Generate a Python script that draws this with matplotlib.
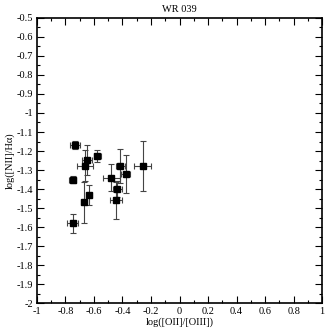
import numpy as np
import matplotlib.pyplot as plt
from matplotlib.ticker import MultipleLocator

plt.rcParams['font.family'] = ['Liberation Serif', 'DejaVu Serif']

# log([OII]/[OIII]) and log([NII]/Halpha) with errors
x = [-0.733, -0.648, -0.576, -0.660, -0.750, -0.670, -0.636, -0.750,
     -0.415, -0.378, -0.478, -0.436, -0.448, -0.259]
y = [-1.168, -1.247, -1.226, -1.277, -1.350, -1.470, -1.430, -1.580,
     -1.279, -1.320, -1.340, -1.400, -1.460, -1.279]
xerr = [0.033, 0.035, 0.022, 0.056, 0.026, 0.020, 0.020, 0.038,
        0.030, 0.030, 0.060, 0.030, 0.042, 0.060]
yerr = [0.022, 0.080, 0.030, 0.083, 0.020, 0.107, 0.053, 0.050,
        0.090, 0.100, 0.070, 0.040, 0.098, 0.130]

fig = plt.figure(figsize=(3.27, 3.32), dpi=100)
ax = fig.add_axes([0.113, 0.087, 0.872, 0.859])

ax.errorbar(x, y, xerr=xerr, yerr=yerr, fmt='s', color='black',
            ecolor='#444444', elinewidth=0.8, capsize=2.5, capthick=0.8,
            markersize=4.6)

ax.set_xlim(-1, 1)
ax.set_ylim(-2, -0.5)
ax.xaxis.set_major_locator(MultipleLocator(0.2))
ax.xaxis.set_minor_locator(MultipleLocator(0.1))
ax.yaxis.set_major_locator(MultipleLocator(0.1))
ax.yaxis.set_minor_locator(MultipleLocator(0.05))
ax.tick_params(which='both', direction='in', top=True, right=True,
               labelsize=7.5, width=0.8, pad=3)
ax.tick_params(which='major', length=5)
ax.tick_params(which='minor', length=2.5)

ax.xaxis.set_major_formatter(plt.FuncFormatter(lambda v, p: '%g' % round(v, 2)))
ax.yaxis.set_major_formatter(plt.FuncFormatter(lambda v, p: '%g' % round(v, 2)))

for s in ax.spines.values():
    s.set_linewidth(1.2)

ax.set_title('WR 039', fontsize=7.5, pad=4)
ax.set_xlabel('log([OII]/[OIII])', fontsize=7.5, labelpad=1)
ax.set_ylabel('log([NII]/H\u03b1)', fontsize=7.5, labelpad=1)

fig.savefig('out.png', dpi=100)
